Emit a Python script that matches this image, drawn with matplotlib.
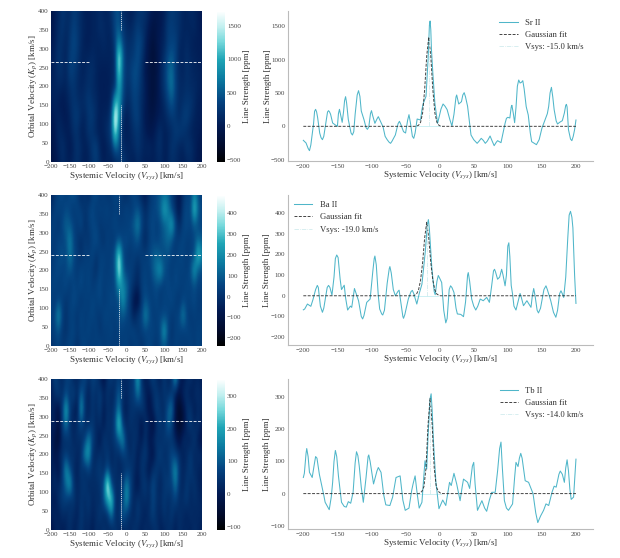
import matplotlib
matplotlib.use("Agg")
import matplotlib.pyplot as plt
from matplotlib.colors import LinearSegmentedColormap

plt.rcParams['font.family'] = ['Liberation Serif', 'DejaVu Serif']
plt.rcParams['mathtext.fontset'] = 'stix'

# Rows run from Kp = 0 to 400 in steps of 40; columns from -200 to 200 km/s in steps of 10.
sr_map = [
 [-100,-50,50,150,100, 50,150,200,100,50, 100,200,300,150,50, 100,50,100,200,300, 150,100,50,150,100, 50,50,50,100,150, 50,100,200,150,100, 50,100,150,50,0, -50],
 [-100,0,100,200,100, 0,100,250,150,50, 100,300,350,100,0, 100,200,600,500,150, 100,100,150,250,150, 100,150,50,150,200, 50,100,250,200,100, 100,250,200,100,0, -50],
 [-50,0,150,100,50, 50,200,200,50,100, 250,200,100,50,100, 200,350,1550,600,100, 50,100,200,250,150, 50,-50,0,100,200, 50,100,150,300,300, 250,150,100,50,50, 0],
 [0,50,100,50,0, 100,250,300,150,100, 250,300,150,50,100, 100,350,1850,1000,150, 50,150,300,350,150, 0,-50,-100,0,50, 100,200,300,250,150, 300,350,200,100,50, 50],
 [50,100,50,0,50, 150,250,200,150,200, 300,200,150,50,50, 50,150,1150,1000,400, 150,200,350,300,150, 50,-100,-150,-50,50, 150,350,500,300,150, 200,250,250,150,50, 50],
 [100,100,150,100,100, 200,250,150,100,150, 200,150,100,50,50, 50,100,200,1050,500, 200,250,400,350,200, 50,-100,-150,-100,100, 250,500,700,350,150, 150,200,150,150,100, 50],
 [50,100,200,200,100, 350,300,200,100,100, 200,200,100,50,50, 50,100,200,1450,500, 250,300,450,400,200, 0,-100,-150,-100,100, 250,550,650,300,150, 100,200,150,100,100, 50],
 [50,100,250,150,100, 300,350,250,100,100, 100,150,100,100,100, 100,100,200,1600,600, 200,250,300,450,250, 50,-100,-200,-100,50, 200,400,500,350,100, 100,200,100,100,50, 50],
 [0,50,200,200,100, 250,400,300,150,50, 50,100,100,100,150, 100,100,350,800,400, 200,200,250,400,350, 100,-50,-150,-50,50, 100,300,350,350,150, 100,150,100,50,50, 50],
 [-50,50,150,250,150, 200,350,250,150,100, 50,100,100,200,150, 100,150,400,500,250, 150,100,200,300,200, 150,0,-100,-50,0, 100,300,300,250,200, 100,100,100,150,50, 0],
 [-100,50,100,250,200, 150,300,250,150,50, 50,100,100,150,100, 100,200,400,450,150, 100,50,100,200,250, 200,100,0,-50,0, 50,200,300,250,200, 100,100,150,100,50, 0],
]
ba_map = [
 [0,30,50,20,40, 60,30,0,40,60, 20,50,30,60,20, 50,20,40,30,40, 60,10,30,50,0, 40,70,30,20,50, 80,40,20,50,30, 40,20,50,30,60, 20],
 [30,50,80,20,0, 40,60,20,50,30, 60,20,50,10,40, 30,60,20,50,40, 30,50,60,10,40, 50,40,60,30,70, 270,60,10,40,50, 30,60,40,30,50, 40],
 [40,60,230,50,0, 50,40,10,60,30, 40,60,30,20,50, 60,30,50,60,90, 60,30,-50,30,50, 200,90,30,40,60, 50,60,20,40,60, 190,50,20,40,30, 40],
 [50,20,60,40,10, 40,70,50,10,50, 30,60,40,60,30, 40,70,50,60,240, 100,20,-80,-120,20, 80,50,40,60,20, 60,40,70,30,10, 60,40,50,70,30, 30],
 [40,60,30,50,70, 20,60,40,70,30, 60,20,50,70,30, 50,40,60,240,200, 130,40,0,-30,40, 60,30,50,70,40, 30,70,40,60,50, 30,60,40,70,40, 50],
 [30,50,70,40,60, 90,50,20,60,40, 50,30,-10,60,40, 30,50,70,460,130, 30,50,20,-20,30, 50,30,100,170,240, 90,50,30,60,40, 50,30,80,260,80, 60],
 [20,40,60,90,50, 170,70,30,0,40, 30,60,10,40,50, 30,40,90,430,70, 30,20,40,20,40, 30,60,90,120,70, 60,80,40,30,60, 50,30,40,60,350, 180],
 [50,20,60,40,80, 190,60,20,-10,30, 10,50,80,30,0, 50,20,30,60,50, 70,40,60,90,20, -30,30,60,40,70, 100,130,80,20,40, 60,30,40,60,120, 90],
 [30,50,0,70,110, 90,50,20,70,-10, 30,60,50,10,40, 20,40,60,30,40, 30,60,100,190,60, 0,40,70,30,60, 100,150,270,70,-30, 50,70,40,90,60, 40],
 [0,40,60,30,70, 50,20,60,30,10, 40,70,20,50,30, 60,20,40,30,20, 60,20,50,80,40, -20,30,50,70,120, 270,180,60,-20,-80, 30,70,50,360,110, 50],
 [-40,10,50,70,30, 60,90,30,-20,20, -30,40,70,10,40, 0,30,60,50,10, -20,30,60,20,-30, -60,0,40,60,90, 130,110,30,-20,-80, 0,50,40,180,70, 30],
]
tb_map = [
 [-20,10,30,0,20, 40,10,30,50,20, 30,0,40,20,50, 30,20,50,30,10, 40,20,50,30,10, 40,20,30,50,10, 20,40,30,10,40, 20,30,10,40,20, 10],
 [10,30,0,40,20, 50,30,10,60,30, 40,20,30,60,20, 30,140,40,30,120, 50,40,20,60,30, 10,40,70,30,20, 50,30,60,20,40, 30,10,40,20,30, 20],
 [20,-10,40,60,70, 30,60,20,50,30, 60,20,40,30,100, 210,300,40,30,60, 200,70,20,50,30, 40,20,80,40,30, 60,30,50,70,30, 40,60,20,40,30, 20],
 [10,40,20,60,120, 210,50,20,40,60, 20,40,30,50,90, 380,70,30,40,60, 170,80,20,-10,40, 60,30,90,40,20, 50,70,60,150,40, 20,60,30,50,20, 10],
 [0,20,-20,50,190, 90,30,10,60,20, 70,30,50,60,30, 80,30,50,20,30, 40,60,30,10,50, 30,-10,40,60,30, 60,30,100,190,50, 20,40,60,30,20, 10],
 [30,-20,20,40,60, 30,50,20,40,180, 200,40,20,50,30, 60,20,40,30,60, 70,30,50,0,40, 60,20,-20,40,70, 30,50,80,60,40, 10,30,60,20,40, 30],
 [20,-30,-50,40,30, 60,20,40,30,60, 170,70,30,-10,60, 30,40,60,100,190, 40,20,50,30,0, 50,-10,20,50,30, 60,40,50,20,-30, 40,20,10,60,0, -20],
 [0,30,-40,60,150, 40,20,40,80,30, 30,60,20,40,0, 50,30,80,300,60, 20,50,30,40,-20, 40,20,-40,30,60, 30,120,70,-30,-60, -40,30,60,20,50, 0],
 [30,0,-30,60,230, 60,20,-10,210,40, 20,50,30,60,0, 40,30,60,150,20, 10,40,50,20,60, 30,-20,20,70,40, 30,100,150,-20,-70, -30,40,50,0,30, 20],
 [0,40,70,30,90, 40,80,20,120,50, 10,60,30,70,20, 50,20,40,120,40, 20,50,60,150,70, 20,-10,30,60,30, 50,40,60,0,-30, 30,40,0,30,40, 20],
 [10,80,40,30,60, 70,20,30,40,80, 30,70,60,20,-20, 40,60,30,70,20, 30,40,60,210,40, 0,30,70,30,10, 60,20,40,200,20, -10,30,40,10,30, 0],
]

sr_trace = [(-200,-210),(-196,-250),(-193,-330),(-191,-365),(-189,-280),(-187,-120),(-185,40),(-183.5,225),(-182,255),(-180.5,215),(-179,130),(-176,-100),(-174,-170),(-172,-200),(-170,-150),(-168,-20),(-166,120),(-164.5,215),(-163,235),(-161.5,215),(-160,180),(-157,50),(-153,20),(-150,0),(-148.5,190),(-147,255),(-145.5,180),(-143,60),(-141,220),(-139.5,385),(-138,445),(-136.5,350),(-134,100),(-130,-100),(-128,-130),(-126,-80),(-124,180),(-121,470),(-119,535),(-117,450),(-115,230),(-111,100),(-108,-20),(-106,-45),(-104,-10),(-101.5,190),(-100,235),(-98.5,170),(-95,45),(-92,110),(-90,145),(-88,100),(-83,-10),(-80,-150),(-77,-200),(-74,-240),(-72,-255),(-70,-225),(-65,-130),(-61,40),(-59,75),(-57,30),(-53,-80),(-50,-100),(-47,90),(-45,175),(-43,60),(-40,-150),(-38,-180),(-36,-100),(-33,110),(-28,95),(-26,250),(-24,345),(-20,450),(-17,1000),(-15,1520),(-14,1580),(-13,1450),(-12,1150),(-10,800),(-7,345),(-3,45),(0,170),(2,260),(5,335),(8,300),(11,250),(15,100),(18,5),(21,180),(24,440),(25,470),(27,380),(28,335),(32,370),(34,470),(36,505),(38,440),(41,300),(46,-130),(50,-200),(55,-255),(58,-220),(61,-180),(64,-210),(67,-255),(70,-220),(74,-145),(77,-220),(80,-290),(83,-240),(85,-215),(90,-245),(93,-100),(96,45),(98,120),(100,135),(103,125),(105,290),(106,315),(108,200),(110,55),(112,280),(114,600),(116,695),(118,650),(120,660),(122,685),(124,560),(127,295),(130,170),(133,-100),(135,-230),(138,-250),(142,-275),(146,-200),(150,-30),(154,80),(158,190),(160,300),(162,500),(164,585),(166,440),(168,250),(171,80),(173,35),(176,60),(180,85),(183,200),(185,315),(186,330),(187,290),(189,-50),(192,-190),(194,-215),(196,-150),(198,-50),(200,95)]
ba_trace = [(-200,-68),(-198,-64),(-194,-40),(-189,-51),(-186,-20),(-182,30),(-179.5,50),(-178,40),(-175,-50),(-172,-80),(-170,-60),(-165,40),(-163,50),(-161,40),(-158,3),(-155,90),(-153,180),(-151,197),(-149,185),(-146,80),(-144,30),(-140,51),(-138,-10),(-135,-69),(-131,-50),(-129,-56),(-125,35),(-122,5),(-119,-24),(-115,-100),(-113,-112),(-111,-95),(-107,-32),(-102,-16),(-98,120),(-96,180),(-95,192),(-93,150),(-90,0),(-88,-64),(-85,-88),(-83.5,-93),(-81,-70),(-77,60),(-74,130),(-73,141),(-71,110),(-68,30),(-65,0),(-61,22),(-59.5,27),(-57,-30),(-54,-100),(-53,-109),(-51,-90),(-46,-16),(-42,20),(-40,26),(-38,10),(-33.5,-40),(-30,10),(-26,56),(-23,150),(-21,216),(-18,345),(-16.5,368),(-15,320),(-11.5,136),(-8,20),(-6.5,5),(-4,70),(-2,98),(0,85),(3,64),(6,-70),(9,-131),(11,-110),(14,30),(16,48),(18,40),(21,16),(24,-60),(26,-88),(31,-90),(35,-101),(38,-30),(41,100),(42,112),(44,70),(47,-16),(50,-50),(53,-69),(56,-50),(59.5,-16),(64,-24),(69,-8),(73,-32),(76,40),(79,120),(80.5,128),(82,115),(85,80),(88,90),(91,128),(93,100),(96,48),(98,100),(100,240),(101.5,256),(103,190),(105,50),(107,8),(109,-50),(112,-69),(115,-30),(118,11),(120,-10),(123,-48),(128,-24),(134,-56),(136,0),(138,35),(140,0),(143,-70),(145,-83),(148,-60),(153,30),(156,48),(158,30),(163,-24),(167,-80),(170.5,-104),(173,-70),(176,10),(178,24),(180,10),(182,-8),(185,90),(188,280),(190,390),(192,408),(194,380),(195.5,328),(198,100),(200,-37)]
tb_trace = [(-200,50),(-198.5,63),(-196,125),(-195,140),(-193,115),(-191,66),(-187,50),(-184,90),(-182,115),(-180,110),(-176.5,60),(-173,25),(-170,-5),(-168,-27),(-162,-50),(-159,-10),(-157,35),(-155,100),(-153,134),(-151,115),(-148.5,55),(-144,-27),(-140,-40),(-137,-42),(-134,-25),(-130.5,-30),(-127,4),(-124,95),(-122,130),(-120,118),(-118,86),(-115,20),(-112,-27),(-108,50),(-105,115),(-104,120),(-102,100),(-97,30),(-92,70),(-90,81),(-86,66),(-82,-5),(-79,-35),(-73,-37),(-69,-11),(-64,50),(-58,55),(-54,-20),(-50.5,-52),(-45,-45),(-41,10),(-39,30),(-36,55),(-33,0),(-30,-45),(-26,-27),(-23,60),(-21.5,102),(-19,76),(-17,180),(-14,295),(-12.5,310),(-11,260),(-9,158),(-5.5,35),(-1,-47),(4.5,-20),(9,-37),(14.5,35),(17,25),(21,63),(25,30),(30,-22),(33,20),(35,45),(41,35),(44,16),(48,85),(50,97),(52,30),(55.5,-52),(62,-22),(66,-45),(69,-55),(73,-20),(76.5,4),(81.5,4),(85,70),(88,140),(90,160),(92,80),(95,-22),(98,-45),(101,-52),(107,-32),(110,50),(112,97),(115,84),(117,110),(119,125),(121,110),(125.5,40),(130.5,35),(137,0),(141,-60),(144,-90),(148,-70),(152.5,-52),(156,-32),(160,-37),(165,5),(168,23),(171,20),(175,60),(177,70),(180,60),(183,35),(185,80),(187,105),(189,71),(191,15),(193,-18),(196.5,-11),(198,40),(200,107)]

sr_fit_v = [-200,-35,-31,-28,-25,-22,-19,-16,-13,-10,-7,-4,-1,2,200]
sr_fit_y = [0,0,15,60,200,550,1050,1340,1050,550,200,60,15,0,0]
ba_fit_v = [-200,-38,-34,-31,-28,-25,-22,-19,-16,-13,-10,-7,-4,0,200]
ba_fit_y = [0,0,8,28,75,160,280,355,280,160,75,28,8,0,0]
tb_fit_v = [-200,-30,-26,-23,-20,-17,-14,-11,-8,-5,-2,2,200]
tb_fit_y = [0,0,7,22,80,215,295,215,80,22,7,0,0]

names = ['Sr II', 'Ba II', 'Tb II']
vsys = [-15.0, -19.0, -14.0]
kp = [265, 240, 288]
maps = [sr_map, ba_map, tb_map]
traces = [sr_trace, ba_trace, tb_trace]
fits_v = [sr_fit_v, ba_fit_v, tb_fit_v]
fits_y = [sr_fit_y, ba_fit_y, tb_fit_y]
vlims = [(-530, 1720), (-237, 488), (-110, 352)]
cbar_ticks = [[-500,0,500,1000,1500], [-200,-100,0,100,200,300,400], [-100,0,100,200,300]]
ylims = [(-520, 1730), (-238, 487), (-110, 356)]
y_ticks = [[-500,0,500,1000,1500], [-200,-100,0,100,200,300,400], [-100,0,100,200,300]]
tops = [11, 195, 379]
legend_loc = ['upper right', 'upper left', 'upper right']

cmap = LinearSegmentedColormap.from_list('strength', [
    (0.00, '#000000'), (0.10, '#010a2a'), (0.24, '#011a52'), (0.40, '#04427f'),
    (0.55, '#0b7aa0'), (0.68, '#1fa5b6'), (0.80, '#78d9dc'), (0.90, '#c4f0f0'), (1.00, '#ffffff')])

W, H = 620, 558
fig = plt.figure(figsize=(W/100, H/100), dpi=100, facecolor='white')
def box(x0, y0, x1, y1):
    return [x0/W, 1-y1/H, (x1-x0)/W, (y1-y0)/H]

tc = '#444444'
lc = '#333333'
FS = 6.5
for i in range(3):
    t = tops[i]
    b = t + 151
    ax = fig.add_axes(box(51, t, 202, b))
    im = ax.imshow(maps[i], origin='lower', extent=[-205, 205, -20, 420], aspect='auto',
                   cmap=cmap, vmin=vlims[i][0], vmax=vlims[i][1], interpolation='bicubic')
    ax.plot([-200, -100], [kp[i], kp[i]], color='white', lw=0.7, ls=(0, (3, 1.5)), alpha=0.85)
    ax.plot([50, 200], [kp[i], kp[i]], color='white', lw=0.7, ls=(0, (3, 1.5)), alpha=0.85)
    ax.plot([vsys[i], vsys[i]], [0, 150], color='white', lw=0.6, ls=(0, (1.5, 1)), alpha=0.85)
    ax.plot([vsys[i], vsys[i]], [350, 400], color='white', lw=0.6, ls=(0, (1.5, 1)), alpha=0.85)
    ax.set_xlim(-200, 200)
    ax.set_ylim(0, 400)
    ax.set_xticks(range(-200, 201, 50))
    ax.set_yticks(range(0, 401, 50))
    ax.tick_params(length=0, pad=1.5, labelsize=5, labelcolor=tc)
    for s in ax.spines.values():
        s.set_visible(False)
    ax.set_xlabel(r'Systemic Velocity ($V_{sys}$) [km/s]', fontsize=FS, color=lc, labelpad=0.5)
    ax.set_ylabel(r'Orbital Velocity ($K_p$) [km/s]', fontsize=FS, color=lc, labelpad=-0.5)

    cax = fig.add_axes(box(217, t, 225, b))
    cb = fig.colorbar(im, cax=cax)
    cb.outline.set_visible(False)
    cb.set_ticks(cbar_ticks[i])
    cb.ax.tick_params(length=0, pad=1.5, labelsize=5, labelcolor=tc)
    cb.set_label('Line Strength [ppm]', fontsize=FS, color=lc, labelpad=1)

    ax2 = fig.add_axes(box(288, t, 593, t + 150))
    v_vals = [p[0] for p in traces[i]]
    y_vals = [p[1] for p in traces[i]]
    ax2.plot(v_vals, y_vals, color='#4fb6c9', lw=0.75, label=names[i])
    ax2.plot(fits_v[i], fits_y[i], color='#222222', lw=0.7, ls=(0, (3, 1.5)), alpha=0.85, label='Gaussian fit')
    ax2.plot([vsys[i], vsys[i]], [0, max(fits_y[i])], color='#c8e8ea', lw=0.5, ls='-.',
             label='Vsys: %.1f km/s' % vsys[i])
    ax2.plot([vsys[i] - 20, vsys[i] + 16], [0, 0], color='#c4eef2', lw=0.6, zorder=1)
    ax2.set_xlim(-222.5, 225)
    ax2.set_ylim(*ylims[i])
    ax2.set_xticks(range(-200, 201, 50))
    ax2.set_yticks(y_ticks[i])
    ax2.tick_params(length=0, pad=2, labelsize=5, labelcolor=tc)
    for s in ['top', 'right']:
        ax2.spines[s].set_visible(False)
    for s in ['left', 'bottom']:
        ax2.spines[s].set_color('#bbbbbb')
        ax2.spines[s].set_linewidth(0.8)
    ax2.set_xlabel(r'Systemic Velocity ($V_{sys}$) [km/s]', fontsize=FS, color=lc, labelpad=0.5)
    ax2.set_ylabel('Line Strength [ppm]', fontsize=FS, color=lc, labelpad=-0.5)
    leg = ax2.legend(loc=legend_loc[i], frameon=False, fontsize=6.2, handlelength=2.1,
                     labelspacing=0.5, handletextpad=0.9, borderaxespad=0.3,
                     bbox_to_anchor=(0.99, 0.99) if i != 1 else (0.0, 1.0))
    for txt in leg.get_texts():
        txt.set_color(lc)

fig.savefig('out.png', dpi=100, facecolor='white')
